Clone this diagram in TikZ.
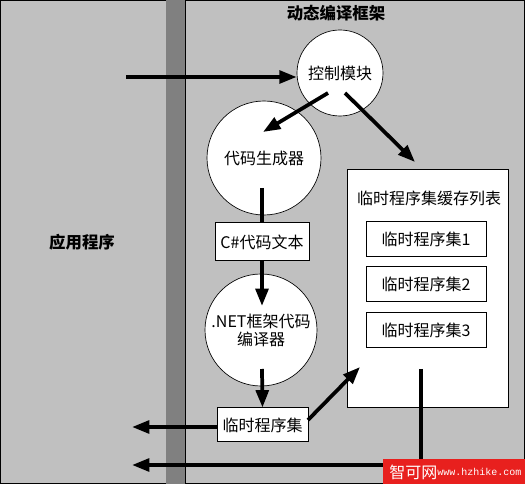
\documentclass[tikz,border=0pt]{standalone}
\usepackage{fontspec}
\setmainfont{Noto Sans CJK SC}
\newfontfamily\wmmono{Liberation Mono}
\usetikzlibrary{arrows.meta,calc}
\definecolor{panelgray}{HTML}{C0C0C0}
\definecolor{bandgray}{HTML}{808080}
\definecolor{wmred}{HTML}{E8201E}
\tikzset{
  panel/.style={draw=black,fill=panelgray,line width=0.75pt},
  bubble/.style={circle,draw=black,fill=white,line width=0.5pt,inner sep=0pt,font=\fontsize{12pt}{13.5pt}\selectfont,align=center},
  plainbox/.style={rectangle,draw=black,fill=white,line width=0.75pt,inner sep=0pt,font=\fontsize{12pt}{13.5pt}\selectfont},
  conn/.style={line width=2.8pt},
  arr/.style={line width=2.8pt,-{Triangle[length=13pt,width=9.5pt]}},
  boldlabel/.style={font=\fontsize{12.3pt}{14pt}\selectfont\bfseries}
}
\begin{document}
\begin{tikzpicture}[x=0.75pt,y=-0.75pt]
\useasboundingbox (0,0) rectangle (525,484);
% panels
\draw[panel] (0.5,0.5) rectangle (166,484);
\fill[bandgray] (166,0) rectangle (185,484);
\draw[panel] (185,0.5) rectangle (524.5,484);
\node[boldlabel] (apptitle) at (82,242) {应用程序};
\node[boldlabel] (fwtitle) at (336,13) {动态编译框架};
% shapes
\node[bubble,minimum size=64.5pt] (ctrl) at (340,73) {控制模块};
\node[bubble,minimum size=85.5pt] (gen) at (264,158) {代码生成器};
\node[bubble,minimum size=84pt] (net) at (261,330) {.NET框架代码\\编译器};
\node[plainbox,minimum width=70.5pt,minimum height=28.5pt] (ctext) at (262,242) {C\#代码文本};
\node[plainbox,minimum width=68.25pt,minimum height=25.5pt] (tmp) at (262.5,425) {临时程序集};
\node[plainbox,minimum width=120.75pt,minimum height=178.5pt] (cache) at (427.5,289) {};
\node[font=\fontsize{12pt}{13.5pt}\selectfont] (cachetitle) at (429,198) {临时程序集缓存列表};
\node[plainbox,minimum width=90pt,minimum height=26.25pt] (asm1) at (426,239.5) {临时程序集1};
\node[plainbox,minimum width=90pt,minimum height=26.25pt] (asm2) at (426,284.5) {临时程序集2};
\node[plainbox,minimum width=90pt,minimum height=26.25pt] (asm3) at (426,330) {临时程序集3};
% coordinates
\coordinate (inA) at (126,77);
\coordinate (c1s) at (328,93);
\coordinate (c1e) at (263,132);
\coordinate (c2s) at (345,93);
\coordinate (c2e) at (415,162);
\coordinate (g1) at (262,188);
\coordinate (n1e) at (262,306);
\coordinate (n2s) at (262,369);
\coordinate (outA) at (132,427);
\coordinate (t2s) at (308,420);
\coordinate (t2e) at (360,367);
\coordinate (k1) at (421,369);
\coordinate (k2) at (421,465);
\coordinate (outB) at (132,465);
% connectors
\draw[arr] (inA) -- (inA -| ctrl.west);
\draw[arr] (c1s) -- (c1e);
\draw[arr] (c2s) -- (c2e);
\draw[conn] (g1) -- (ctext.north);
\draw[arr] (ctext.south) -- (n1e);
\draw[arr] (n2s) -- (tmp.north);
\draw[arr] (tmp.west |- outA) -- (outA);
\draw[arr] (t2s) -- (t2e);
\draw[arr] (k1) -- (k2) -- (outB);
% watermark
\fill[wmred] (383,459) rectangle (525,484);
\node[text=white,font=\fontsize{12pt}{13pt}\selectfont,anchor=west,inner sep=0pt] (wm1) at (389,472) {智可网};
\node[text=white,font=\wmmono\fontsize{7.5pt}{9pt}\selectfont,anchor=west,inner sep=0pt] (wm2) at (437,472) {www.hzhike.com};
\end{tikzpicture}
\end{document}
